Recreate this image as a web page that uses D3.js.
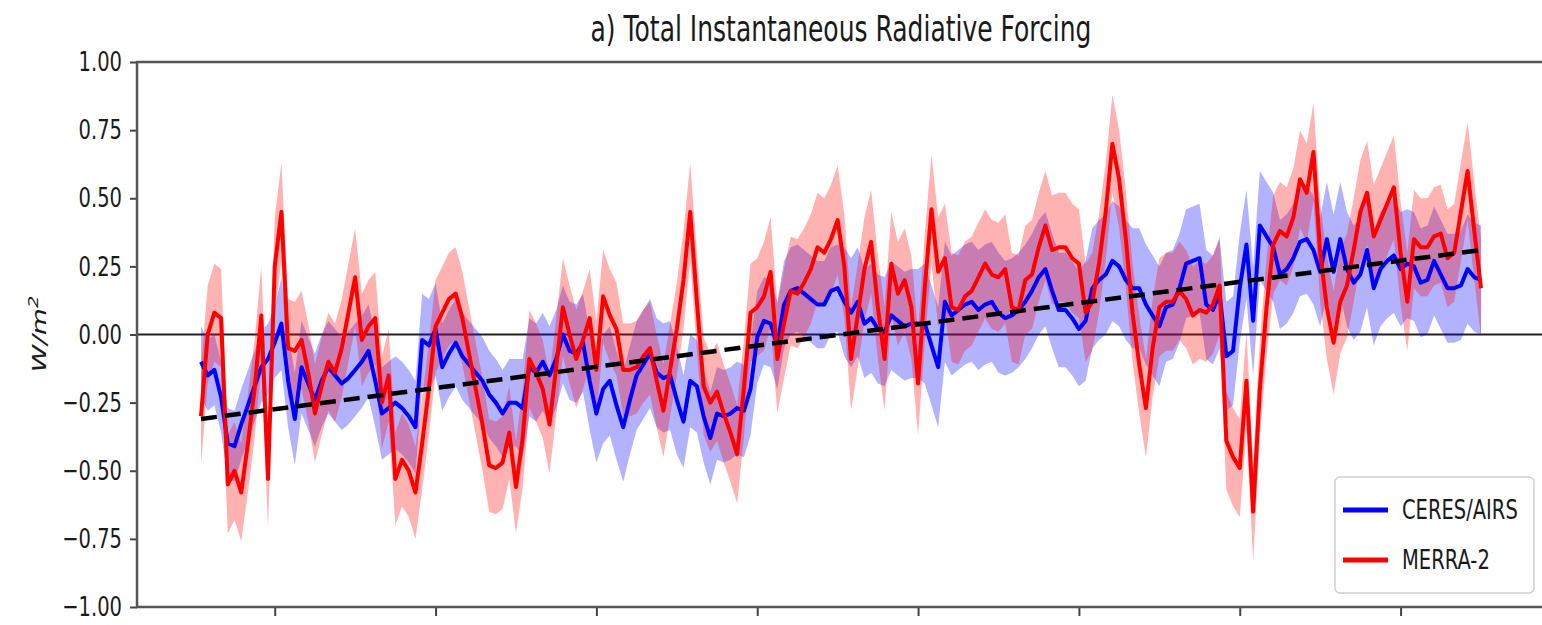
<!DOCTYPE html>
<html>
<head>
<meta charset="utf-8">
<script src="https://cdn.jsdelivr.net/npm/d3@7"></script>
<style>
  body { margin: 0; background: #fff; }
  text { font-family: "DejaVu Sans", sans-serif; fill: #1a1a1a; }
</style>
</head>
<body>
<div id="chart"></div>
<script>
// monthly anomalies (W/m^2)
var ceresAirs = [
  -0.10, -0.15, -0.13, -0.23, -0.40, -0.41, -0.33, -0.26, -0.19, -0.12, -0.09, -0.03,
   0.04, -0.17, -0.31, -0.12, -0.18, -0.24, -0.17, -0.12, -0.15, -0.18, -0.16, -0.13,
  -0.10, -0.06, -0.17, -0.29, -0.27, -0.25, -0.27, -0.30, -0.34, -0.02, -0.04,  0.02,
  -0.12, -0.07, -0.03, -0.08, -0.11, -0.14, -0.17, -0.22, -0.25, -0.29, -0.25, -0.25,
  -0.27, -0.12, -0.14, -0.10, -0.15, -0.09,  0.00, -0.06, -0.07, -0.03, -0.17, -0.29,
  -0.20, -0.17, -0.26, -0.34, -0.24, -0.15, -0.11, -0.07, -0.14, -0.16, -0.15, -0.24,
  -0.32, -0.17, -0.19, -0.30, -0.38, -0.29, -0.30, -0.29, -0.27, -0.28, -0.20, -0.01,
   0.05,  0.04, -0.04,  0.11,  0.16,  0.17,  0.15,  0.13,  0.11,  0.11,  0.16,  0.17,
   0.12,  0.08,  0.12,  0.04,  0.06,  0.02,  0.01,  0.07,  0.05,  0.03,  0.04,  0.04,
   0.04, -0.04, -0.12,  0.12,  0.07,  0.09,  0.11,  0.12,  0.09,  0.11,  0.12,  0.08,
   0.06,  0.07,  0.09,  0.12,  0.16,  0.21,  0.24,  0.16,  0.09,  0.09,  0.06,  0.02,
   0.05,  0.17,  0.20,  0.22,  0.27,  0.25,  0.20,  0.17,  0.17,  0.11,  0.07,  0.03,
   0.10,  0.11,  0.17,  0.26,  0.27,  0.28,  0.11,  0.09,  0.15, -0.08, -0.06,  0.17,
   0.33,  0.05,  0.40,  0.36,  0.32,  0.22,  0.24,  0.28,  0.34,  0.35,  0.31,  0.23,
   0.35,  0.23,  0.35,  0.24,  0.19,  0.22,  0.31,  0.17,  0.24,  0.27,  0.29,  0.24,
   0.26,  0.25,  0.19,  0.20,  0.27,  0.22,  0.17,  0.17,  0.18,  0.24,  0.21,  0.20
];

var merra2 = [
  -0.30,  0.00,  0.08,  0.06, -0.55, -0.50, -0.58, -0.40, -0.20,  0.07, -0.53,  0.25,
   0.45, -0.05, -0.06, -0.02, -0.14, -0.29, -0.19, -0.10, -0.14, -0.05,  0.08,  0.21,
  -0.02,  0.03,  0.06, -0.25, -0.15, -0.53, -0.46, -0.50, -0.58, -0.40, -0.20,  0.03,
   0.08,  0.13,  0.15,  0.06, -0.07, -0.20, -0.33, -0.48, -0.49, -0.47, -0.36, -0.56,
  -0.38, -0.09, -0.14, -0.20, -0.33, -0.12,  0.10,  0.00, -0.09, -0.02,  0.06, -0.13,
   0.14,  0.07,  0.02, -0.13, -0.13, -0.12, -0.08, -0.05, -0.17, -0.28, -0.13,  0.02,
   0.20,  0.45,  0.12, -0.19, -0.25, -0.21, -0.29, -0.36, -0.44, -0.20,  0.08,  0.10,
   0.14,  0.23, -0.09,  0.04,  0.16,  0.15,  0.19,  0.24,  0.32,  0.30,  0.35,  0.42,
   0.25, -0.09,  0.07,  0.24,  0.34,  0.10, -0.09,  0.26,  0.15,  0.20,  0.10, -0.18,
   0.17,  0.46,  0.23,  0.28,  0.10,  0.09,  0.14,  0.16,  0.21,  0.26,  0.22,  0.21,
   0.24,  0.10,  0.09,  0.20,  0.22,  0.32,  0.40,  0.31,  0.32,  0.32,  0.28,  0.26,
   0.08,  0.12,  0.26,  0.45,  0.70,  0.57,  0.35,  0.08, -0.11, -0.27, -0.05,  0.10,
   0.12,  0.12,  0.16,  0.13,  0.07,  0.09,  0.08,  0.11,  0.18, -0.39, -0.45, -0.49,
  -0.17, -0.65, -0.20,  0.10,  0.33,  0.38,  0.36,  0.43,  0.57,  0.52,  0.67,  0.30,
   0.10, -0.03,  0.12,  0.18,  0.31,  0.45,  0.52,  0.36,  0.42,  0.48,  0.54,  0.30,
   0.12,  0.35,  0.32,  0.32,  0.36,  0.37,  0.28,  0.30,  0.45,  0.60,  0.38,  0.17
];

// half-width of the shaded spread, one value per year of record
var ceresSpread = [0.13, 0.17, 0.17, 0.16, 0.18, 0.20, 0.17, 0.16, 0.20, 0.22, 0.21, 0.22, 0.20, 0.20, 0.21, 0.20];
var merraSpread = [0.18, 0.18, 0.17, 0.17, 0.18, 0.17, 0.18, 0.20, 0.19, 0.20, 0.20, 0.18, 0.18, 0.18, 0.19, 0.18];

// dashed trend line, value at first and last month
var trendEnds = [-0.31, 0.31];

var yTicks = [-1.00, -0.75, -0.50, -0.25, 0.00, 0.25, 0.50, 0.75, 1.00];
var xTicks = [11, 35, 59, 83, 107, 131, 155, 179];   // month index, unlabelled ticks

var seriesNames = ["CERES/AIRS", "MERRA-2"];
var seriesColors = ["#0000ff", "#ff0000"];

var textStretch = 1.4;   // the source figure is stretched vertically

var W = 1542, H = 625;
var margin = {top: 62, right: -3, bottom: 18, left: 137};
var width = W - margin.left - margin.right;
var height = H - margin.top - margin.bottom;

var svg = d3.select("#chart").append("svg")
    .attr("width", W)
    .attr("height", H)
    .style("display", "block");

var n = ceresAirs.length;
var pad = (n - 1) * 0.05;

var x = d3.scaleLinear()
    .domain([-pad, n - 1 + pad])
    .range([margin.left, margin.left + width]);

var y = d3.scaleLinear()
    .domain([-1, 1])
    .range([margin.top + height, margin.top]);

// title
svg.append("text")
    .attr("transform", "translate(" + (margin.left + width / 2) + ",41) scale(1," + textStretch + ")")
    .attr("text-anchor", "middle")
    .style("font-size", "25px")
    .text("a) Total Instantaneous Radiative Forcing");

// y label
var ylab = svg.append("text")
    .attr("transform", "translate(46,334) scale(1," + textStretch + ") rotate(-90)")
    .attr("text-anchor", "middle")
    .style("font-size", "20px")
    .style("font-style", "italic");
ylab.append("tspan").text("W/m");
ylab.append("tspan").attr("dy", "-0.55em").style("font-size", "14px").text("2");

// zero line
svg.append("line")
    .attr("x1", margin.left).attr("x2", margin.left + width)
    .attr("y1", y(0)).attr("y2", y(0))
    .attr("stroke", "#222")
    .attr("stroke-width", 2);

function bandArea(vals, spread) {
    return d3.area()
        .x(function(d, i) { return x(i); })
        .y0(function(d, i) { return y(d - spread[Math.floor(i / 12)]); })
        .y1(function(d, i) { return y(d + spread[Math.floor(i / 12)]); })(vals);
}

var line = d3.line()
    .x(function(d, i) { return x(i); })
    .y(function(d) { return y(d); });

svg.append("path")
    .attr("d", bandArea(ceresAirs, ceresSpread))
    .attr("fill", seriesColors[0])
    .attr("fill-opacity", 0.3);

svg.append("path")
    .attr("d", bandArea(merra2, merraSpread))
    .attr("fill", seriesColors[1])
    .attr("fill-opacity", 0.3);

svg.append("path")
    .datum(ceresAirs)
    .attr("d", line)
    .attr("fill", "none")
    .attr("stroke", seriesColors[0])
    .attr("stroke-width", 4)
    .attr("stroke-linejoin", "round");

svg.append("path")
    .datum(merra2)
    .attr("d", line)
    .attr("fill", "none")
    .attr("stroke", seriesColors[1])
    .attr("stroke-width", 4)
    .attr("stroke-linejoin", "round");

// trend
svg.append("line")
    .attr("x1", x(0)).attr("y1", y(trendEnds[0]))
    .attr("x2", x(n - 1)).attr("y2", y(trendEnds[1]))
    .attr("stroke", "#000")
    .attr("stroke-width", 4.5)
    .attr("stroke-dasharray", "16,8");

// axes
var yAxis = d3.axisLeft(y)
    .tickValues(yTicks)
    .tickSize(7)
    .tickPadding(8)
    .tickFormat(function(d) { return d3.format(".2f")(d).replace("-", "\u2212"); });

var yg = svg.append("g")
    .attr("transform", "translate(" + margin.left + ",0)")
    .call(yAxis);
yg.select(".domain").remove();
yg.selectAll(".tick line").attr("stroke", "#444").attr("stroke-width", 2);
yg.selectAll(".tick text")
    .attr("transform", "scale(1," + textStretch + ")")
    .style("font-size", "19.5px")
    .style("font-family", "DejaVu Sans, sans-serif")
    .attr("fill", "#1a1a1a");

var xAxis = d3.axisBottom(x)
    .tickValues(xTicks)
    .tickSize(9)
    .tickFormat("");

var xg = svg.append("g")
    .attr("transform", "translate(0," + (margin.top + height) + ")")
    .call(xAxis);
xg.select(".domain").remove();
xg.selectAll(".tick line").attr("stroke", "#444").attr("stroke-width", 2);

// spines
svg.append("rect")
    .attr("x", margin.left).attr("y", margin.top)
    .attr("width", width).attr("height", height)
    .attr("fill", "none")
    .attr("stroke", "#555")
    .attr("stroke-width", 2.5);

// legend
var lg = svg.append("g").attr("transform", "translate(1335,477)");
lg.append("rect")
    .attr("width", 199).attr("height", 116)
    .attr("rx", 5)
    .attr("fill", "#fff")
    .attr("fill-opacity", 0.85)
    .attr("stroke", "#d0d0d0")
    .attr("stroke-width", 1.5);

seriesNames.forEach(function(name, k) {
    var yy = 33 + k * 50;
    lg.append("line")
        .attr("x1", 8).attr("x2", 53)
        .attr("y1", yy).attr("y2", yy)
        .attr("stroke", seriesColors[k])
        .attr("stroke-width", 5);
    lg.append("text")
        .attr("transform", "translate(67," + (yy + 9) + ") scale(1," + textStretch + ")")
        .style("font-size", "19.5px")
        .text(name);
});
</script>
</body>
</html>
